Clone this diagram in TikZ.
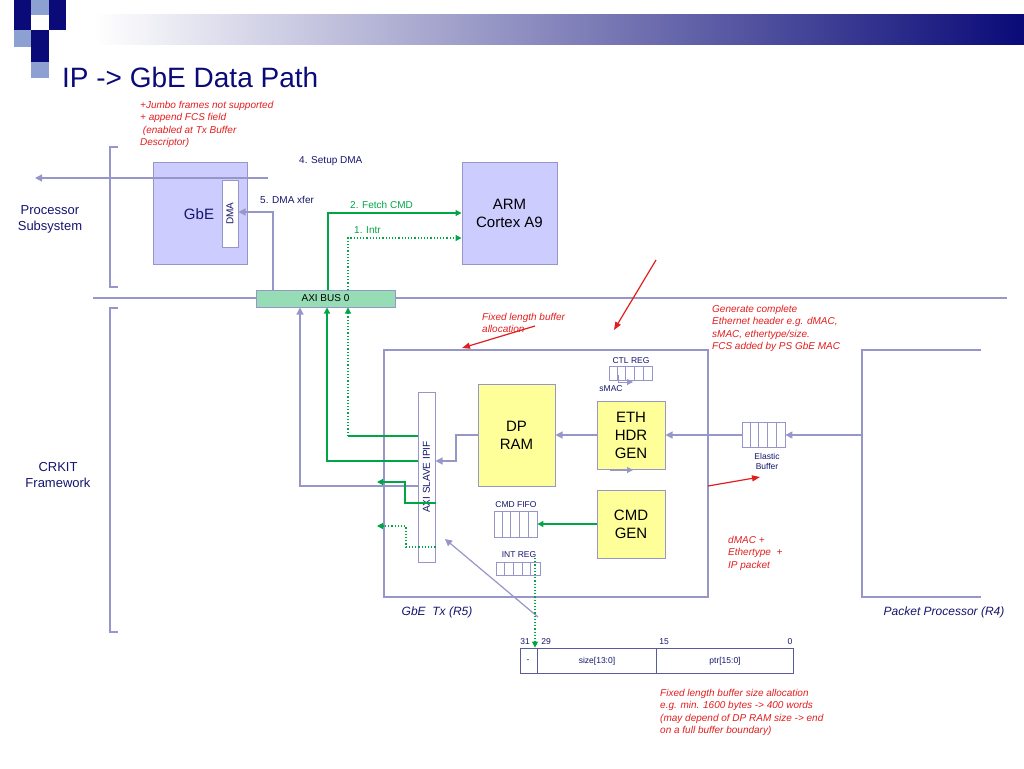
\documentclass[tikz,border=0pt]{standalone}
\usepackage{fontspec}
\setmainfont{Liberation Sans}
\usetikzlibrary{arrows.meta}
\definecolor{navy}{RGB}{20,20,110}
\definecolor{hdr}{RGB}{10,10,120}
\definecolor{lav}{RGB}{150,150,200}
\definecolor{lavfill}{RGB}{204,204,255}
\definecolor{lbl}{RGB}{140,160,210}
\definecolor{grn}{RGB}{0,165,70}
\definecolor{busfill}{RGB}{150,220,180}
\definecolor{yel}{RGB}{255,255,153}
\definecolor{rd}{RGB}{225,30,30}
\tikzset{
  lavline/.style={draw=lav, line width=1.2pt},
  lavarrow/.style={lavline, -{Triangle[length=7pt,width=7pt]}},
  grarrow/.style={draw=grn, line width=1.2pt, -{Triangle[length=6pt,width=6pt]}},
  grdot/.style={grarrow, dotted},
  redarrow/.style={draw=rd, line width=1.2pt, -{Triangle[length=8pt,width=6pt]}},
  blk/.style={draw=lav, line width=1pt, inner sep=0pt, font=\fontsize{15}{18}\selectfont, align=center},
  note/.style={text=rd, font=\fontsize{10}{12.5}\selectfont\itshape, align=left, anchor=north west, inner sep=0pt},
  small/.style={text=navy, font=\fontsize{10}{12}\selectfont, inner sep=0pt, align=center},
  tiny/.style={text=navy, font=\fontsize{8.5}{10}\selectfont, inner sep=0pt, align=center},
  big/.style={text=navy, font=\fontsize{13}{16}\selectfont, inner sep=0pt, align=center}
}
\newcommand{\regbox}[5]{% name, x, y, width, height
  \node[draw=lav, line width=0.8pt, minimum width=#4, minimum height=#5, inner sep=0pt] (#1) at (#2,#3) {};
  \foreach \k in {1,...,4} \draw[lav, line width=0.8pt] ([xshift=\k*#4/5]#1.south west) -- ([xshift=\k*#4/5]#1.north west);
}
\begin{document}
\begin{tikzpicture}[x=1pt, y=-1pt]
  \useasboundingbox (0,0) rectangle (1024,768);
  % header
  \shade[left color=white, right color=hdr] (95,15) rectangle (1024,45);
  \fill[hdr] (14,0) rectangle (31,30);
  \fill[lbl] (31,0) rectangle (49,15);
  \fill[hdr] (49,0) rectangle (66,30);
  \fill[lbl] (14,30) rectangle (31,47);
  \fill[hdr] (31,30) rectangle (49,47);
  \fill[hdr] (31,47) rectangle (49,62);
  \fill[lbl] (31,62) rectangle (49,78);
  \node[text=hdr, font=\fontsize{28}{30}\selectfont, anchor=west, inner sep=0pt] (title) at (62,77) {IP -> GbE Data Path};

  % brackets and subsystems
  \draw[lavline] (118,147) -- (110,147) -- (110,287) -- (118,287);
  \draw[lavline] (118,308) -- (110,308) -- (110,632) -- (118,632);
  \node[big] (ps) at (50,219) {Processor\\Subsystem};
  \node[big] (crkit) at (58,475) {CRKIT\\Framework};
  \draw[lavline] (93,298) -- (1007,298);

  % processor subsystem
  \node[blk, fill=lavfill, minimum width=94pt, minimum height=102pt] (gbe) at (200,213) {};
  \node[big, font=\fontsize{15}{18}\selectfont] at (199,214) {GbE};
  \node[blk, fill=white, minimum width=16pt, minimum height=67pt] (dma) at (230,213.5) {};
  \node[small, rotate=90] at (dma) {DMA};
  \node[blk, fill=lavfill, minimum width=95pt, minimum height=102pt] (arm) at (509.5,213) {ARM\\Cortex A9};
  \node[blk, fill=busfill, minimum width=139pt, minimum height=17pt, font=\fontsize{10}{12}\selectfont] (bus) at (325.5,298.5) {AXI BUS 0};
  \coordinate (out) at (35,178);
  \draw[lavarrow] (268,178) -- (out);
  \draw[lavarrow] (273,290) |- (dma.east |- 0,212);
  \draw[grarrow] (328,290) |- (arm.west |- 0,213);
  \draw[grdot] (348,290) |- (arm.west |- 0,238);
  \node[small, anchor=west] at (299,161) {4. Setup DMA};
  \node[small, anchor=west] at (260,200) {5. DMA xfer};
  \node[small, anchor=west, text=grn] at (350,205) {2. Fetch CMD};
  \node[small, anchor=west, text=grn] at (354,230) {1. Intr};
  \node[note] at (140,101) {+Jumbo frames not supported\\+ append FCS field\\ \ (enabled at Tx Buffer\\Descriptor)};

  % GbE Tx and packet processor
  \draw[lavline] (384,350) rectangle (708,597);
  \draw[lavline] (981,350) -- (862,350) -- (862,597) -- (981,597);
  \node[text=navy, font=\fontsize{12}{14}\selectfont\itshape, inner sep=0pt] at (437,612) {GbE \ Tx (R5)};
  \node[text=navy, font=\fontsize{12}{14}\selectfont\itshape, inner sep=0pt] at (944,612) {Packet Processor (R4)};
  \node[blk, fill=white, minimum width=17pt, minimum height=170pt] (ipif) at (426.5,477) {};
  \node[small, rotate=90] at (ipif) {AXI SLAVE IPIF};
  \node[blk, fill=yel, minimum width=77pt, minimum height=102pt] (ram) at (516.5,435) {DP\\RAM};
  \node[blk, fill=yel, minimum width=68pt, minimum height=68pt] (eth) at (631,435) {ETH\\HDR\\GEN};
  \node[blk, fill=yel, minimum width=68pt, minimum height=68pt] (cmd) at (631,524) {CMD\\GEN};
  \regbox{ctl}{630.5}{373}{43pt}{14pt}
  \node[tiny] at (631,361) {CTL REG};
  \node[tiny] at (611,389) {sMAC};
  \regbox{fifo}{515.5}{524}{43pt}{26pt}
  \node[tiny] at (516,505) {CMD FIFO};
  \regbox{intreg}{518}{568.5}{44pt}{13pt}
  \node[tiny] at (519,555) {INT REG};
  \regbox{elastic}{763.5}{435}{43pt}{25pt}
  \node[tiny] at (767,461) {Elastic\\Buffer};
  \draw[lav, line width=1pt, -{Triangle[length=6pt,width=6pt]}] (618,375) |- (633,382);
  \draw[lav, line width=1pt, -{Triangle[length=6pt,width=6pt]}] (610,470) -- (633,470);

  % data path
  \draw[lavarrow] (862,435) -- (elastic.east);
  \draw[lavarrow] (elastic.west) -- (eth.east);
  \draw[lavarrow] (eth.west) -- (ram.east);
  \draw[lavarrow] (ram.west) -- (456,435) -- (456,461) -- (ipif.east |- 0,461);
  \draw[grn, line width=1.2pt] (ipif.west |- 0,436) -- (348,436);
  \draw[grdot] (348,436) -- (bus.south -| 348,0);
  \draw[grarrow] (ipif.west |- 0,461) -| (bus.south -| 327,0);
  \draw[lavarrow] (ipif.west |- 0,486) -| (bus.south -| 300,0);
  \draw[grarrow] (ipif.east |- 0,503) -- (405,503) |- (377,482);
  \draw[grdot] (ipif.east |- 0,547) -- (406,547) |- (377,526);
  \draw[grarrow] (cmd.west) -- (fifo.east);
  \coordinate (diag) at (538,617);
  \draw[lavarrow] (diag) -- (445,539);

  % descriptor
  \node[draw=navy!70, line width=0.8pt, minimum width=273pt, minimum height=25pt, inner sep=0pt] (desc) at (656.5,660.5) {};
  \draw[navy!70, line width=0.8pt] (537,648) -- (537,673) (656,648) -- (656,673);
  \node[tiny] at (528,661) {-};
  \node[tiny] at (597,661) {size[13:0]};
  \node[tiny] at (725,661) {ptr[15:0]};
  \node[tiny] at (525,642) {31};
  \node[tiny] at (546,642) {29};
  \node[tiny] at (664,642) {15};
  \node[tiny] at (790,642) {0};
  \draw[grdot] (535,558) -- (desc.north west -| 535,0);

  % notes
  \node[note] at (482,313) {Fixed length buffer\\allocation};
  \node[note] at (712,305) {Generate complete\\Ethernet header e.g. dMAC,\\sMAC, ethertype/size.\\FCS added by PS GbE MAC};
  \node[note] at (728,536) {dMAC +\\Ethertype \ +\\IP packet};
  \node[note] at (660,689) {Fixed length buffer size allocation\\e.g. min. 1600 bytes -> 400 words\\(may depend of DP RAM size -> end\\on a full buffer boundary)};
  \coordinate (r1) at (656,260);
  \coordinate (r2) at (535,326);
  \coordinate (r3) at (708,486);
  \draw[redarrow] (r1) -- (614,330);
  \draw[redarrow] (r2) -- (462,348);
  \draw[redarrow] (r3) -- (760,477);
\end{tikzpicture}
\end{document}
